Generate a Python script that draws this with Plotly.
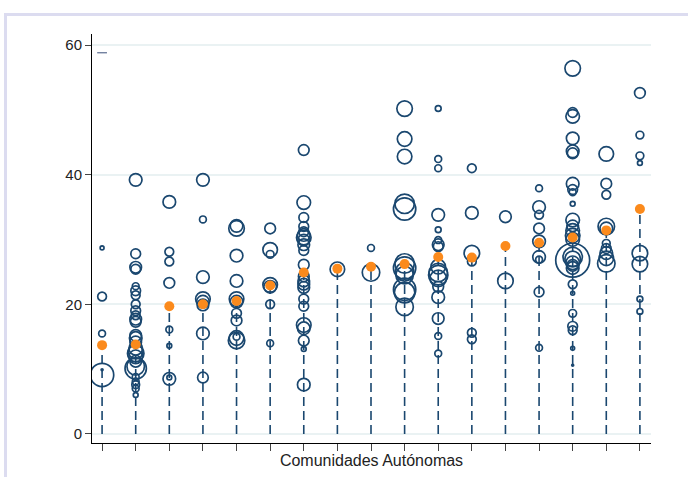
import numpy as np
import plotly.graph_objects as go

# Comunidades Autónomas (17), sin etiquetas en el eje
comunidades = list(range(17))

# valores observados por comunidad
tasa = [
    [28.7, 21.2, 15.5, 9.1, 9.9],
    [39.2, 27.8, 25.7, 25.4, 22.8, 22.1, 21.4, 20.0, 19.0, 18.3, 17.7, 17.3, 15.2, 14.8, 14.2, 13.2, 12.7, 12.4, 11.9, 11.2, 10.1, 10.4, 8.8, 8.1, 7.6, 7.0, 6.0],
    [35.8, 28.1, 26.6, 23.3, 16.1, 13.6, 8.5, 8.7],
    [39.2, 33.1, 24.2, 20.8, 20.4, 19.9, 15.5, 8.7],
    [32.1, 31.7, 27.5, 23.6, 20.8, 20.4, 18.6, 17.5, 15.0, 14.8, 14.4],
    [31.7, 28.4, 27.7, 23.0, 22.7, 20.0, 14.0],
    [43.8, 35.7, 33.4, 32.0, 31.2, 30.7, 30.3, 29.9, 29.2, 28.3, 26.1, 24.3, 23.6, 23.1, 22.6, 20.8, 19.7, 16.8, 16.3, 14.4, 13.1, 7.6],
    [25.4],
    [28.7, 24.9],
    [50.2, 45.5, 42.8, 35.5, 34.7, 26.3, 25.6, 25.0, 24.5, 22.3, 21.8, 19.6],
    [50.2, 42.4, 41.0, 33.8, 31.5, 29.9, 29.2, 28.9, 25.8, 24.9, 24.5, 24.0, 22.7, 21.1, 17.8, 15.1, 12.4],
    [41.0, 34.1, 27.9, 26.6, 15.6, 14.6],
    [33.5, 23.6],
    [37.9, 35.0, 33.8, 31.7, 29.7, 27.3, 26.9, 21.9, 13.3],
    [56.4, 49.6, 49.0, 45.6, 43.6, 43.3, 38.6, 37.7, 37.3, 35.5, 33.0, 32.1, 31.4, 30.6, 30.0, 27.3, 26.8, 27.0, 26.4, 26.0, 25.6, 23.1, 21.7, 18.6, 16.6, 16.0, 13.2, 10.6],
    [43.2, 38.6, 36.9, 32.0, 31.7, 29.4, 28.6, 27.9, 27.1, 26.3],
    [52.6, 46.1, 42.9, 41.8, 27.9, 26.2, 20.8, 18.9],
]

# pesos (tamaño de la burbuja)
peso = [
    [16, 81, 49, 576, 4],
    [169, 100, 144, 100, 49, 100, 81, 81, 100, 81, 144, 121, 144, 169, 144, 196, 225, 289, 196, 144, 484, 324, 49, 49, 64, 49, 25],
    [169, 81, 81, 121, 49, 25, 169, 25],
    [169, 49, 169, 225, 169, 144, 169, 121],
    [169, 256, 169, 169, 225, 169, 100, 121, 49, 225, 289],
    [121, 225, 64, 225, 169, 81, 49],
    [121, 196, 100, 100, 100, 169, 225, 144, 144, 100, 121, 121, 144, 144, 144, 100, 100, 225, 169, 121, 25, 169],
    [225],
    [49, 324],
    [256, 225, 225, 400, 529, 400, 529, 361, 324, 529, 441, 324],
    [36, 49, 49, 169, 36, 49, 144, 100, 225, 361, 400, 289, 121, 169, 144, 49, 49],
    [81, 169, 256, 81, 81, 81],
    [144, 256],
    [49, 169, 81, 121, 169, 169, 49, 100, 49],
    [256, 100, 196, 169, 169, 121, 169, 100, 49, 25, 196, 144, 196, 225, 196, 400, 1225, 256, 196, 144, 169, 81, 16, 64, 100, 81, 16, 4],
    [225, 121, 81, 289, 169, 64, 100, 169, 225, 324],
    [121, 64, 64, 25, 256, 256, 36, 36],
]

# media por comunidad
media = [13.7, 13.8, 19.7, 20.0, 20.5, 22.9, 24.9, 25.5, 25.8, 26.2, 27.3, 27.2, 29.0, 29.5, 30.3, 31.4, 34.7]

# marca suelta arriba a la izquierda
marca_x = [0]
marca_y = [58.8]

y_ticks = [0, 20, 40, 60]

NAVY = "#1a476f"
ORANGE = "#fb8a1c"
GRID = "#eaf2f3"

fig = go.Figure()

# líneas discontinuas 0 -> media
lx, ly = [], []
for c, m in zip(comunidades, media):
    lx += [c, c, None]
    ly += [0, m, None]
fig.add_trace(go.Scatter(x=lx, y=ly, mode="lines",
                         line=dict(color=NAVY, width=1.6, dash="9px,5px"),
                         hoverinfo="skip", showlegend=False))

# burbujas
bx, by, bs = [], [], []
for c, vals, ws in zip(comunidades, tasa, peso):
    bx += [c] * len(vals)
    by += vals
    bs += list(np.sqrt(np.array(ws, dtype=float)) * 0.97)
fig.add_trace(go.Scatter(x=bx, y=by, mode="markers",
                         marker=dict(symbol="circle", size=bs, color="rgba(0,0,0,0)",
                                     opacity=1,
                                     line=dict(width=1.7, color=NAVY)),
                         showlegend=False))

# medias
fig.add_trace(go.Scatter(x=comunidades, y=media, mode="markers",
                         marker=dict(symbol="circle", size=10, color=ORANGE, opacity=1,
                                     line=dict(width=0)),
                         showlegend=False))

# marca
fig.add_trace(go.Scatter(x=marca_x, y=marca_y, mode="markers",
                         marker=dict(symbol="line-ew", size=7, color="#3a4f7a",
                                     line=dict(width=1, color="#3a4f7a")),
                         showlegend=False))

L, R, T, B = 92, 37, 34, 34
W, H = 688, 477
pw, ph = W - L - R, H - T - B

def px_x(p):
    return (p - L) / pw

def px_y(p):
    return (H - B - p) / ph

fig.add_shape(type="rect", xref="paper", yref="paper",
              x0=px_x(5.5), x1=px_x(720), y0=px_y(520), y1=px_y(14.5),
              line=dict(color="#dcdcf0", width=3), fillcolor="rgba(0,0,0,0)", layer="below")

fig.update_layout(
    width=W, height=H,
    margin=dict(l=L, r=R, t=T, b=B),
    paper_bgcolor="white", plot_bgcolor="white",
    font=dict(family="Liberation Sans, Arial, sans-serif", color="#222222", size=15),
    showlegend=False,
)
fig.update_xaxes(
    range=[-0.3, 16.33], tickmode="array", tickvals=comunidades, showticklabels=False,
    ticks="outside", ticklen=7, tickcolor="#444444", tickwidth=1,
    showline=True, linecolor="black", linewidth=1, showgrid=False, zeroline=False,
    title=dict(text="Comunidades Autónomas", font=dict(size=16, color="#222222"), standoff=4),
)
fig.update_yaxes(
    range=[-1.4, 61.7], tickmode="array", tickvals=y_ticks, ticktext=[str(t) for t in y_ticks],
    ticks="outside", ticklen=6, tickcolor="#444444", tickwidth=1,
    showline=True, linecolor="black", linewidth=1,
    showgrid=True, gridcolor=GRID, gridwidth=1.5, zeroline=False,
    tickfont=dict(size=15),
)

fig.write_html("out.html", config={"displayModeBar": False},
               post_script="document.body.style.margin='0';document.body.style.padding='0';")
